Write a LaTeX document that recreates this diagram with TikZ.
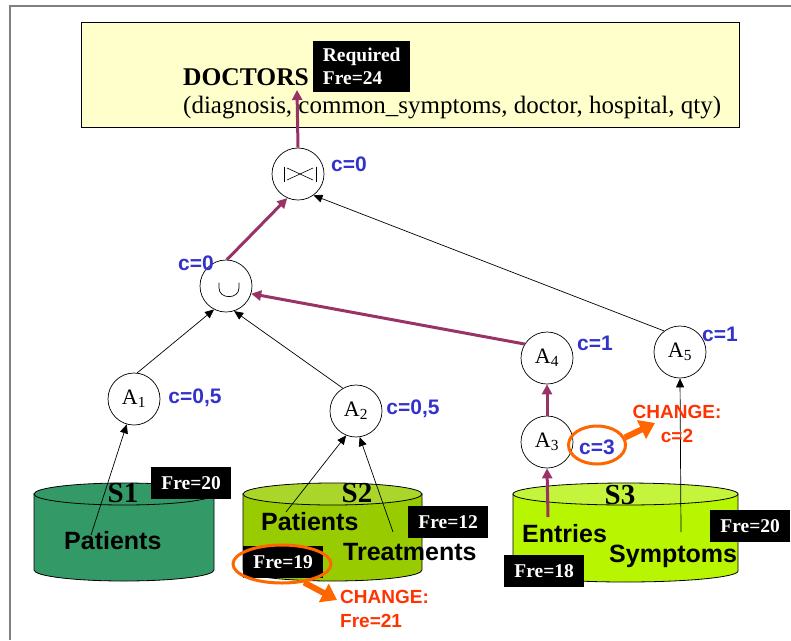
\documentclass[tikz,border=0pt]{standalone}
\usepackage{fontspec}
\setmainfont{Liberation Serif}
\setsansfont{Liberation Sans}
\usetikzlibrary{arrows.meta,shapes.geometric}

\definecolor{notebg}{HTML}{FFFFCC}
\definecolor{costblue}{HTML}{3333CC}
\definecolor{pathpurple}{HTML}{993366}
\definecolor{ringorange}{HTML}{FF6600}
\definecolor{changered}{HTML}{FF3300}
\definecolor{sonegreen}{HTML}{339966}
\definecolor{stwobody}{HTML}{99CC00}
\definecolor{stwotop}{HTML}{AAD52A}
\definecolor{sthreebody}{HTML}{B8F500}
\definecolor{sthreetop}{HTML}{C4F53C}
\definecolor{framegray}{HTML}{808080}

% data source drum: x-left, x-right, y of top rim, y of bottom rim, rim radius, body colour, top colour
\newcommand\drum[7]{%
  \pgfmathsetmacro\drumrx{(#2-#1)/2}%
  \pgfmathsetmacro\drumcx{(#1+#2)/2}%
  \filldraw[fill=#6, line width=0.8pt] (#1,#3) -- (#1,#4)
     arc[start angle=180, end angle=360, x radius=\drumrx pt, y radius=#5pt] -- (#2,#3) -- cycle;
  \filldraw[fill=#7, line width=0.8pt] (\drumcx,#3) ellipse[x radius=\drumrx pt, y radius=#5pt];
}

\begin{document}
\begin{tikzpicture}[x=1pt, y=-1pt,
  opnode/.style={circle, draw, fill=white, line width=0.7pt, minimum size=52pt, inner sep=0pt,
                 font=\fontsize{22}{24}\selectfont},
  cost/.style={font=\sffamily\bfseries\fontsize{21}{23}\selectfont, text=costblue, inner sep=0pt},
  frebox/.style={fill=black, text=white, font=\bfseries\fontsize{19.5}{21}\selectfont, inner sep=0pt,
                 minimum width=80pt, minimum height=32pt, anchor=north west},
  attr/.style={font=\sffamily\bfseries\fontsize{25}{27}\selectfont, inner sep=0pt, anchor=base west},
  srcname/.style={font=\bfseries\fontsize{29}{31}\selectfont, inner sep=0pt},
  change/.style={font=\sffamily\bfseries\fontsize{19}{24}\selectfont, text=changered, inner sep=0pt},
  flow/.style={line width=0.7pt, -{Triangle[length=9pt,width=8pt]}},
  pflow/.style={draw=pathpurple, line width=3pt, -{Triangle[length=10pt,width=10pt]}},
  ring/.style={ellipse, draw=ringorange, line width=3pt, inner sep=0pt},
  bigarrow/.style={draw=ringorange, line width=6pt, -{Triangle[length=15pt,width=20pt]}}]
\useasboundingbox (0,0) rectangle (791,640);

% page frame
\draw[framegray, line width=2pt] (9.5,640) -- (9.5,6) -- (791,6);

% target relation
\node[draw, fill=notebg, line width=1.3pt, minimum width=658pt, minimum height=105pt,
      inner sep=0pt, anchor=north west] (doctors) at (81,22) {};
\node[anchor=west, inner sep=0pt, font=\bfseries\fontsize{25.5}{27}\selectfont] (dname) at (183,77) {DOCTORS};
\node[anchor=west, inner sep=0pt, font=\fontsize{25}{27}\selectfont] (dattr) at (183,108)
     {(diagnosis, common\_symptoms, doctor, hospital, qty)};
\node[frebox, minimum width=97pt, minimum height=51pt, align=left,
      font=\bfseries\fontsize{19.5}{23}\selectfont] (req) at (313,41) {Required\\Fre=24};
\coordinate (docin) at (297,90);

% data sources
\drum{34}{214}{494}{570}{11}{sonegreen}{sonegreen}
\drum{243}{422}{494}{570}{11}{stwobody}{stwotop}
\drum{513}{738}{494}{571}{11}{sthreebody}{sthreetop}

\node[srcname] (s1) at (123,493) {S1};
\node[srcname] (s2) at (357,493) {S2};
\node[srcname] (s3) at (620,495) {S3};

\node[attr] (pat1) at (64,549) {Patients};
\node[attr] (pat2) at (261,530) {Patients};
\node[attr] (treat) at (343,560) {Treatments};
\node[attr] (entr) at (522,542) {Entries};
\node[attr] (symp) at (609,562) {Symptoms};

\node[frebox] (f20a) at (151,467) {Fre=20};
\node[frebox] (f12) at (408,506) {Fre=12};
\node[frebox] (f19) at (243,546) {Fre=19};
\node[frebox] (f20b) at (710,510) {Fre=20};
\node[frebox] (f18) at (504,555) {Fre=18};

% start points of the attribute links
\coordinate (pat1o) at (91,535);
\coordinate (pat2o) at (286,512);
\coordinate (treato) at (393,532);
\coordinate (entro) at (548,517);
\coordinate (sympo) at (681,532);

% operators
\node[opnode] (join) at (298,174) {};
\begin{scope}[shift={(join)}, line width=0.6pt]
  \draw (-14,-7.5) -- (-14,7.5);
  \draw (18,-7.5) -- (18,7.5);
  \draw (-11,-6) -- (2,0) -- (-11,6);
  \draw (15,-6) -- (2,0) -- (15,6);
\end{scope}
\node[opnode] (union) at (226,286) {};
\begin{scope}[shift={(union)}, line width=0.7pt]
  \draw (-7,-3.5) -- (-7,2) .. controls (-7,13.5) and (13,13.5) .. (13,2) -- (13,-3.5);
\end{scope}
\node[opnode] (a1) at (134,399) {A\textsubscript{1}};
\node[opnode] (a2) at (356,411) {A\textsubscript{2}};
\node[opnode] (a4) at (547,358) {A\textsubscript{4}};
\node[opnode] (a5) at (680,352) {A\textsubscript{5}};
\node[opnode] (a3) at (547,442) {A\textsubscript{3}};

% costs
\node[cost] (cjoin) at (349,164) {c=0};
\node[cost] (cunion) at (196,263) {c=0};
\node[cost] (ca1) at (195,398) {c=0,5};
\node[cost] (ca2) at (413,409) {c=0,5};
\node[cost] (ca4) at (595,343) {c=1};
\node[cost] (ca5) at (720,334) {c=1};
\node[cost] (ca3) at (597,447) {c=3};

% plain links
\draw[flow] (pat1o) -- (a1.254);
\draw[flow] (pat2o) -- (a2.248);
\draw[flow] (treato) -- (a2.278);
\draw[flow] (sympo) -- (a5.south);
\draw[flow] (a1.83) -- (union.243);
\draw[flow] (a2.120) -- (union.288);
\draw[flow] (a5.127) -- (join.306);

% chosen path
\draw[pflow] (entro) -- (a3.south);
\draw[pflow] (a3.north) -- (a4.south);
\draw[pflow] (a4.148) -- (union.343);
\draw[pflow] (union.88) -- (join.246);
\draw[pflow] (join.north) -- (docin);

% changes
\node[ring, minimum width=98pt, minimum height=38pt] (ring19) at (282,564) {};
\node[ring, minimum width=57pt, minimum height=38pt] (ring3) at (597,445) {};
\node[change, anchor=north west, align=left] (chg19) at (340,590) {CHANGE:\\Fre=21};
\node[change, align=center] (chg3) at (677,424) {CHANGE:\\c=2};
\coordinate (tip19) at (337,600);
\coordinate (tip3) at (655,423);
\draw[bigarrow] (ring19.-40) -- (tip19);
\draw[bigarrow] (ring3.15) -- (tip3);
\end{tikzpicture}
\end{document}
